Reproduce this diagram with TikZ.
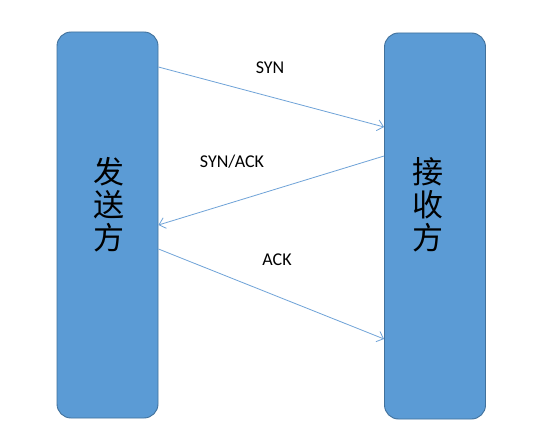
\documentclass[tikz,border=0pt]{standalone}
\usepackage{fontspec}
\setmainfont{Carlito}
\newfontfamily\cjk{Noto Sans CJK SC}
\usetikzlibrary{arrows.meta}
\definecolor{boxfill}{HTML}{5B9BD5}
\definecolor{boxline}{HTML}{41719C}
\definecolor{arrowc}{HTML}{6FA3D8}
\tikzset{
  party/.style={draw=boxline, fill=boxfill, line width=0.9pt, rounded corners=14pt,
    minimum width=101pt, minimum height=386pt, inner sep=0pt},
  partytext/.style={font=\cjk\fontsize{31}{33}\selectfont, align=center, inner sep=0pt},
  msg/.style={draw=arrowc, line width=0.8pt, -{Straight Barb[length=6pt,width=11pt]}},
  msglabel/.style={font=\fontsize{18}{20}\selectfont, inner sep=0pt}
}
\begin{document}
\begin{tikzpicture}[x=1pt,y=-1pt]
\useasboundingbox (0,0) rectangle (540,438);
\fill[white] (0,0) rectangle (540,438);
\node[party] (L) at (107.5,225) {};
\node[party] (R) at (435,226) {};
\node[partytext] (Lt) at (109,205) {发\\送\\方};
\node[partytext] (Rt) at (428,205) {接\\收\\方};
\coordinate (s1) at (L.east |- 0,67);
\coordinate (e1) at (R.west |- 0,127);
\coordinate (s2) at (R.west |- 0,156);
\coordinate (e2) at (L.east |- 0,225);
\coordinate (s3) at (L.east |- 0,249);
\coordinate (e3) at (R.west |- 0,339);
\draw[msg] (s1) -- (e1);
\draw[msg] (s2) -- (e2);
\draw[msg] (s3) -- (e3);
\node[msglabel] (l1) at (270,68) {SYN};
\node[msglabel] (l2) at (232,162) {SYN/ACK};
\node[msglabel] (l3) at (277,260) {ACK};
\end{tikzpicture}
\end{document}
